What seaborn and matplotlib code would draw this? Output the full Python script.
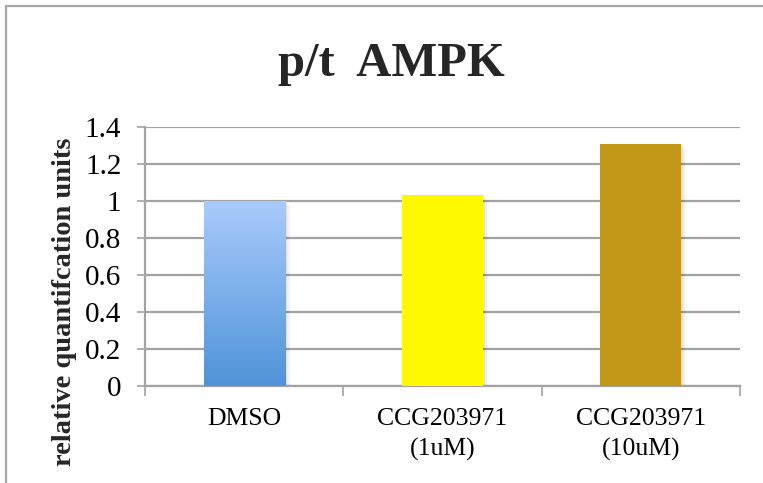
import numpy as np
import pandas as pd
import matplotlib
matplotlib.use("Agg")
import matplotlib.pyplot as plt
from matplotlib.patches import Rectangle
from matplotlib.lines import Line2D
from matplotlib.colors import LinearSegmentedColormap
import seaborn as sns

# Data
categories = ["DMSO", "CCG203971\n(1uM)", "CCG203971\n(10uM)"]
values = [1.0, 1.03, 1.31]
bar_colors = ["#7FB0EC", "#FFF900", "#C29916"]
y_ticks = [0, 0.2, 0.4, 0.6, 0.8, 1.0, 1.2, 1.4]
y_tick_labels = ["0", "0.2", "0.4", "0.6", "0.8", "1", "1.2", "1.4"]

df = pd.DataFrame({"group": categories, "value": values})

sns.set_theme(style="white")
plt.rcParams["font.family"] = ["Liberation Serif", "DejaVu Serif"]

W, H = 763, 483
fig = plt.figure(figsize=(W / 100, H / 100), dpi=100)
ax = fig.add_axes([145 / W, 1 - 386 / H, (740 - 145) / W, (386 - 127) / H])

sns.barplot(data=df, x="group", y="value", hue="group", palette=bar_colors,
            width=0.41, legend=False, ax=ax, zorder=3, linewidth=0,
            saturation=1)

# soft shadow + gradient for the first bar
grid_col = "#A3A3A3"
for i, p in enumerate(list(ax.patches)):
    x0, y0 = p.get_x(), p.get_y()
    w, h = p.get_width(), p.get_height()
    for k, a in enumerate([0.06, 0.04, 0.025]):
        off = 0.006 * (k + 1)
        ax.add_patch(Rectangle((x0 + off * 0.6, y0), w + off, h - off * 1.5,
                               color="black", alpha=a, lw=0, zorder=2.5))
    if i == 0:
        cmap = LinearSegmentedColormap.from_list("blu", ["#4F93D8", "#A9CBFC"])
        grad = np.linspace(0, 1, 256).reshape(-1, 1)
        im = ax.imshow(grad, cmap=cmap, origin="lower", aspect="auto",
                       extent=(x0, x0 + w, y0, y0 + h), zorder=3.5)
        im.set_clip_path(p)
ax.set_xlim(-0.5, 2.5)
ax.set_ylim(0, 1.4)

# gridlines
ax.set_yticks(y_ticks)
ax.set_yticklabels(y_tick_labels)
ax.yaxis.grid(True, color=grid_col, linewidth=1.6, zorder=0)
ax.xaxis.grid(False)
ax.set_axisbelow(True)

for side in ["top", "right"]:
    ax.spines[side].set_visible(False)
for side in ["left", "bottom"]:
    ax.spines[side].set_color(grid_col)
    ax.spines[side].set_linewidth(1.6)

ax.tick_params(axis="y", which="major", direction="out", length=6,
               width=1.2, color=grid_col, left=True, pad=11, labelsize=21,
               labelcolor="black")
ax.set_xticks(range(len(categories)))
ax.set_xticklabels(categories, linespacing=1.45)
ax.tick_params(axis="x", which="major", length=0, pad=16, labelsize=18.5,
               labelcolor="black")
ax.set_xticks([-0.5, 0.5, 1.5, 2.5], minor=True)
ax.tick_params(axis="x", which="minor", direction="out", length=7,
               width=1.2, color=grid_col, bottom=True)

ax.set_xlabel("")
ax.set_ylabel("")

fig.text(65 / W, 1 - 302 / H, "relative quantifcation units", rotation=90,
         ha="center", va="center", fontsize=20.5, fontweight="bold")
fig.text(391 / W, 1 - 64 / H, "p/t  AMPK", ha="center", va="center",
         fontsize=35, fontweight="bold")

# chart frame (left and top edges)
frame_kw = dict(transform=fig.transFigure, color="#A6A6A6", linewidth=1.6)
fig.lines.append(Line2D([6 / W, 6 / W], [0, 1 - 6 / H], **frame_kw))
fig.lines.append(Line2D([6 / W, 1], [1 - 6 / H, 1 - 6 / H], **frame_kw))

fig.savefig("out.png", dpi=100)
